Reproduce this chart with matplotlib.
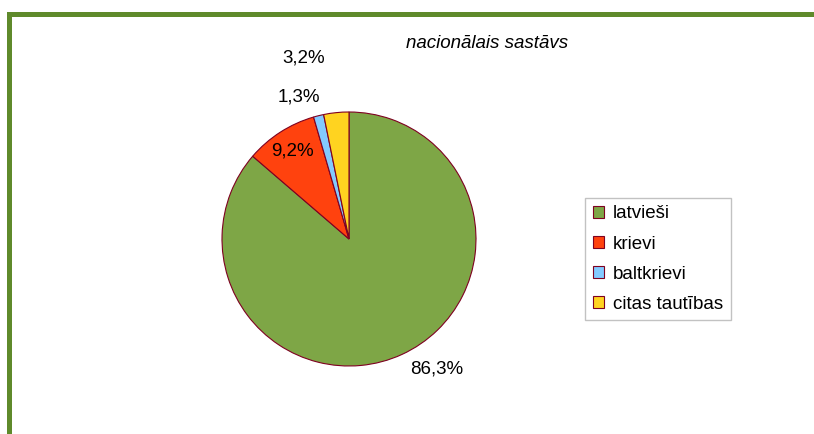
import numpy as np
import matplotlib.pyplot as plt
from matplotlib.patches import Rectangle

plt.rcParams['font.family'] = ['Liberation Sans', 'DejaVu Sans']

# data
labels = ['latvieši', 'krievi', 'baltkrievi', 'citas tautības']
values = [86.3, 9.2, 1.3, 3.2]
pct_text = ['86,3%', '9,2%', '1,3%', '3,2%']
colors = ['#7ea646', '#ff420e', '#83caff', '#ffd320']
title = 'nacionālais sastāvs'

W, H = 814, 434
fig = plt.figure(figsize=(W / 100, H / 100), dpi=100)

# green frame (top and left)
fig.patches.append(Rectangle((7 / W, 1 - 17 / H), 1, 5 / H, transform=fig.transFigure,
                             facecolor='#5f8a2b', edgecolor='none'))
fig.patches.append(Rectangle((7 / W, 0), 5 / W, 1 - 12 / H, transform=fig.transFigure,
                             facecolor='#5f8a2b', edgecolor='none'))

# pie axes: centre (349, 239), radius 127 px
cx, cy, r = 349, 239, 127
ax = fig.add_axes([(cx - r) / W, 1 - (cy + r) / H, 2 * r / W, 2 * r / H])
wedges, _ = ax.pie(values, colors=colors, startangle=90, counterclock=False,
                   wedgeprops=dict(edgecolor='#7e0021', linewidth=0.8))
ax.set_xlim(-1, 1)
ax.set_ylim(-1, 1)
ax.set_aspect('equal')
ax.axis('off')

fs = 13.5
for i, w in enumerate(wedges):
    mid = np.deg2rad((w.theta1 + w.theta2) / 2)
    c, s = np.cos(mid), np.sin(mid)
    if i == 0:
        ax.annotate(pct_text[i], (1.05 * c, 1.05 * s), xytext=(4, 0),
                    textcoords='offset points', ha='left', va='top', fontsize=fs,
                    annotation_clip=False)
    elif i == 1:
        ax.text(0.82 * c, 0.82 * s, pct_text[i], ha='center', va='center', fontsize=fs)
    elif i == 2:
        ax.annotate(pct_text[i], (1.05 * c, 1.05 * s), xytext=(2, 3),
                    textcoords='offset points', ha='right', va='bottom', fontsize=fs,
                    annotation_clip=False)
    else:
        ax.annotate(pct_text[i], (1.05 * c, 1.05 * s), xytext=(-8, 29),
                    textcoords='offset points', ha='right', va='bottom', fontsize=fs,
                    annotation_clip=False)

fig.text(487 / W, 1 - 43 / H, title, ha='center', va='center', fontsize=fs, style='italic')

fig.legend(wedges, labels, loc='upper left', bbox_to_anchor=(585 / W, 1 - 198 / H),
           fontsize=fs, frameon=True, fancybox=False, edgecolor='#b3b3b3',
           handlelength=0.6, handleheight=0.6, handletextpad=0.5, labelspacing=0.7,
           borderpad=0.4, borderaxespad=0)

fig.savefig('out.png', dpi=100)
